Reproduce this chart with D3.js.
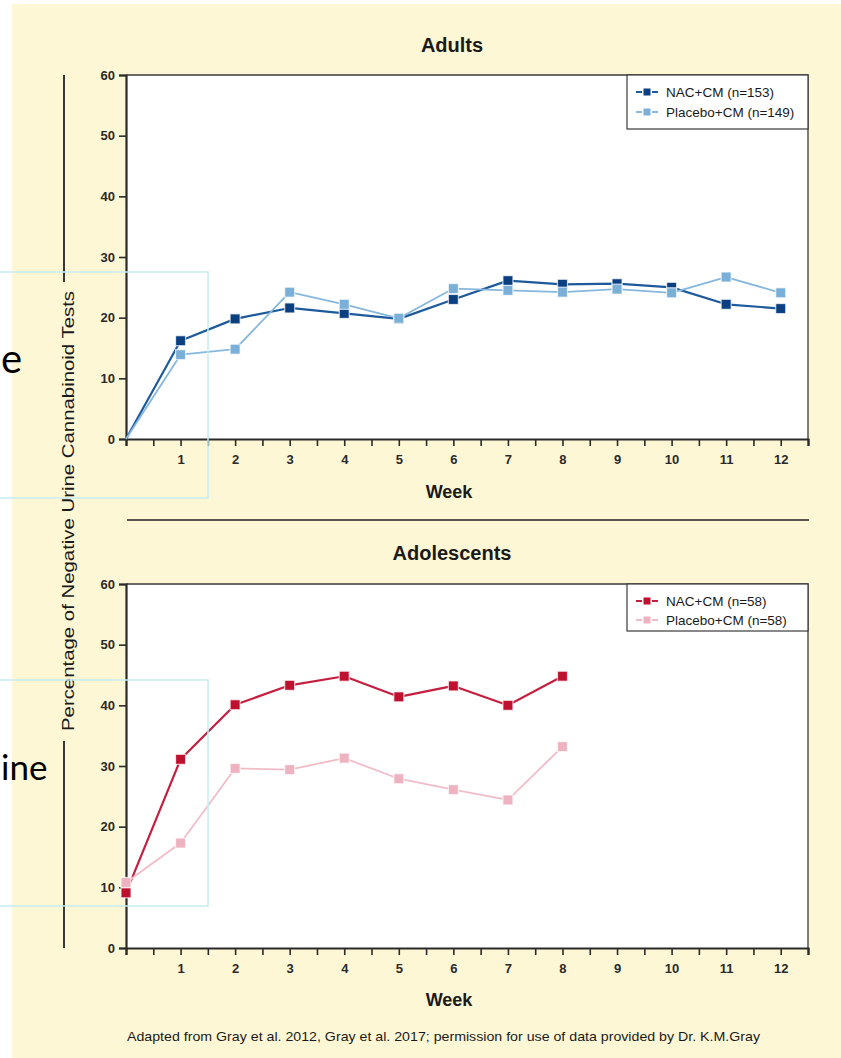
<!DOCTYPE html>
<html>
<head>
<meta charset="utf-8">
<script src="https://cdn.jsdelivr.net/npm/d3@7"></script>
<style>
  html, body { margin: 0; padding: 0; background: #ffffff; }
  svg { display: block; }
</style>
</head>
<body>
<svg id="chart" width="841" height="1058"></svg>
<script>
// Weekly percentage of negative urine cannabinoid tests
const weeksAdults = [0, 1, 2, 3, 4, 5, 6, 7, 8, 9, 10, 11, 12];
const adultsNac = [0, 16.2, 19.8, 21.6, 20.7, 19.8, 23.0, 26.1, 25.5, 25.6, 25.0, 22.2, 21.5];
const adultsPlacebo = [0, 13.9, 14.8, 24.2, 22.2, 19.9, 24.8, 24.5, 24.2, 24.7, 24.1, 26.7, 24.1];

const weeksAdol = [0, 1, 2, 3, 4, 5, 6, 7, 8];
const adolNac = [9.1, 31.1, 40.1, 43.3, 44.8, 41.4, 43.2, 40.0, 44.8];
const adolPlacebo = [10.8, 17.3, 29.6, 29.4, 31.3, 27.9, 26.1, 24.4, 33.2];

const xTicks = d3.range(0, 12.51, 0.5);
const yTicks = [0, 10, 20, 30, 40, 50, 60];

const legendAdults = ["NAC+CM (n=153)", "Placebo+CM (n=149)"];
const legendAdol = ["NAC+CM (n=58)", "Placebo+CM (n=58)"];

const FONT = '"Liberation Sans Narrow", "Liberation Sans", Arial, sans-serif';

const svg = d3.select("#chart");

// cream page
svg.append("rect").attr("x", 12).attr("y", 4).attr("width", 841 - 12).attr("height", 1058 - 4)
  .attr("fill", "#fef7d5");

const x = d3.scaleLinear().domain([0, 12.5]).range([126, 808]);

function styleTickText(sel) {
  sel.selectAll(".tick text")
    .attr("font-family", FONT).attr("font-weight", "bold").attr("font-size", 13)
    .attr("fill", "#2a2a2a");
}

function panel(cfg) {
  const y = d3.scaleLinear().domain([0, 60]).range([cfg.bottom, cfg.top]);
  const g = svg.append("g");

  // plot area
  g.append("rect").attr("x", x(0)).attr("y", y(60))
    .attr("width", x(12.5) - x(0)).attr("height", y(0) - y(60))
    .attr("fill", "#ffffff");
  // top and right frame
  g.append("path")
    .attr("d", `M${x(0)},${y(60)}H${x(12.5)}V${y(0)}`)
    .attr("fill", "none").attr("stroke", "#3a3a3a").attr("stroke-width", 1.3);

  // title
  g.append("text").attr("x", 452).attr("y", cfg.titleY)
    .attr("text-anchor", "middle")
    .attr("font-family", FONT).attr("font-weight", "bold").attr("font-size", 20)
    .attr("fill", "#1a1a1a").text(cfg.title);

  // axes
  const xAxis = d3.axisBottom(x).tickValues(xTicks).tickSize(7).tickPadding(6)
    .tickFormat(d => (Number.isInteger(d) && d > 0) ? d : "");
  const gx = g.append("g").attr("transform", `translate(0,${y(0)})`).call(xAxis);
  gx.select(".domain").attr("stroke", "#2a2a2a").attr("stroke-width", 2.2);
  gx.selectAll(".tick line").attr("stroke", "#2a2a2a").attr("stroke-width", 1.6);
  styleTickText(gx);
  gx.selectAll(".tick text").attr("dy", "0.95em");

  const yAxis = d3.axisLeft(y).tickValues(yTicks).tickSize(7).tickPadding(4);
  const gy = g.append("g").attr("transform", `translate(${x(0)},0)`).call(yAxis);
  gy.select(".domain").attr("stroke", "#2a2a2a").attr("stroke-width", 2.2);
  gy.selectAll(".tick line").attr("stroke", "#2a2a2a").attr("stroke-width", 1.6);
  styleTickText(gy);

  // x axis title
  g.append("text").attr("x", 449).attr("y", cfg.weekY)
    .attr("text-anchor", "middle")
    .attr("font-family", FONT).attr("font-weight", "bold").attr("font-size", 18)
    .attr("fill", "#1a1a1a").text("Week");

  const line = d3.line().x((d, i) => x(cfg.weeks[i])).y(d => y(d));

  cfg.series.forEach(s => {
    g.append("path").datum(s.values)
      .attr("d", line)
      .attr("fill", "none").attr("stroke", s.line).attr("stroke-width", s.width)
      .attr("stroke-linejoin", "round");
    const pts = s.values.map((v, i) => ({ w: cfg.weeks[i], v }))
      .filter(p => !(cfg.skipZero && p.w === 0));
    g.selectAll(null).data(pts).enter().append("rect")
      .attr("x", p => x(p.w) - 5).attr("y", p => y(p.v) - 5)
      .attr("width", 10).attr("height", 10)
      .attr("fill", s.marker).attr("stroke", "#ffffff").attr("stroke-opacity", 0.7)
      .attr("stroke-width", 1.2);
  });

  // legend
  const lx = 627, ly = y(60);
  g.append("rect").attr("x", lx).attr("y", ly).attr("width", x(12.5) - lx).attr("height", cfg.legendH)
    .attr("fill", "#ffffff").attr("stroke", "#3a3a3a").attr("stroke-width", 1.2);
  cfg.series.forEach((s, i) => {
    const cy = ly + 17 + i * cfg.legendStep;
    g.append("line").attr("x1", 636).attr("x2", 642).attr("y1", cy).attr("y2", cy)
      .attr("stroke", s.line).attr("stroke-width", 2);
    g.append("line").attr("x1", 652).attr("x2", 658).attr("y1", cy).attr("y2", cy)
      .attr("stroke", s.line).attr("stroke-width", 2);
    g.append("rect").attr("x", 643.5).attr("y", cy - 3.5).attr("width", 7).attr("height", 7)
      .attr("fill", s.marker);
    g.append("text").attr("x", 666).attr("y", cy + 4.5)
      .attr("font-family", FONT).attr("font-size", 13.5).attr("fill", "#1a1a1a")
      .text(cfg.legend[i]);
  });
}

panel({
  title: "Adults", titleY: 52, top: 75, bottom: 439, weekY: 498,
  weeks: weeksAdults, skipZero: true, legend: legendAdults, legendH: 54, legendStep: 20,
  series: [
    { values: adultsNac, line: "#1d5a9c", marker: "#0b3f80", width: 2.2 },
    { values: adultsPlacebo, line: "#86b7dc", marker: "#7aafd8", width: 1.8 }
  ]
});

panel({
  title: "Adolescents", titleY: 560, top: 584, bottom: 948, weekY: 1006,
  weeks: weeksAdol, skipZero: false, legend: legendAdol, legendH: 47, legendStep: 19,
  series: [
    { values: adolNac, line: "#c41f3e", marker: "#c0102f", width: 2.2 },
    { values: adolPlacebo, line: "#f1bcc7", marker: "#eeb2c0", width: 1.8 }
  ]
});

// divider between panels
svg.append("line").attr("x1", 127).attr("x2", 809).attr("y1", 520).attr("y2", 520)
  .attr("stroke", "#222").attr("stroke-width", 1.6);

// shared y-axis title with rules above and below
svg.append("line").attr("x1", 64).attr("x2", 64).attr("y1", 75).attr("y2", 282)
  .attr("stroke", "#222").attr("stroke-width", 1.8);
svg.append("line").attr("x1", 64).attr("x2", 64).attr("y1", 741).attr("y2", 948)
  .attr("stroke", "#222").attr("stroke-width", 1.8);
svg.append("text")
  .attr("transform", "translate(74,511) rotate(-90)")
  .attr("text-anchor", "middle")
  .attr("font-family", FONT).attr("font-size", 17).attr("fill", "#1a1a1a")
  .attr("textLength", 440).attr("lengthAdjust", "spacingAndGlyphs")
  .text("Percentage of Negative Urine Cannabinoid Tests");

// source note
svg.append("text").attr("x", 127).attr("y", 1041)
  .attr("font-family", FONT).attr("font-size", 13).attr("fill", "#1a1a1a")
  .attr("textLength", 633).attr("lengthAdjust", "spacingAndGlyphs")
  .text("Adapted from Gray et al. 2012, Gray et al. 2017; permission for use of data provided by Dr. K.M.Gray");

// overlaid slide text boxes
svg.append("rect").attr("x", -2).attr("y", 272).attr("width", 210).attr("height", 226)
  .attr("fill", "none").attr("stroke", "#c8ecf0").attr("stroke-width", 1.5);
svg.append("rect").attr("x", -2).attr("y", 680).attr("width", 210).attr("height", 226)
  .attr("fill", "none").attr("stroke", "#c8ecf0").attr("stroke-width", 1.5);
svg.append("text").attr("x", 1).attr("y", 373)
  .attr("font-family", "Lato, 'Open Sans', sans-serif").attr("font-size", 40).attr("fill", "#000")
  .text("e");
svg.append("text").attr("x", 1).attr("y", 780)
  .attr("font-family", "Lato, 'Open Sans', sans-serif").attr("font-size", 35).attr("fill", "#000")
  .text("ine");
</script>
</body>
</html>
